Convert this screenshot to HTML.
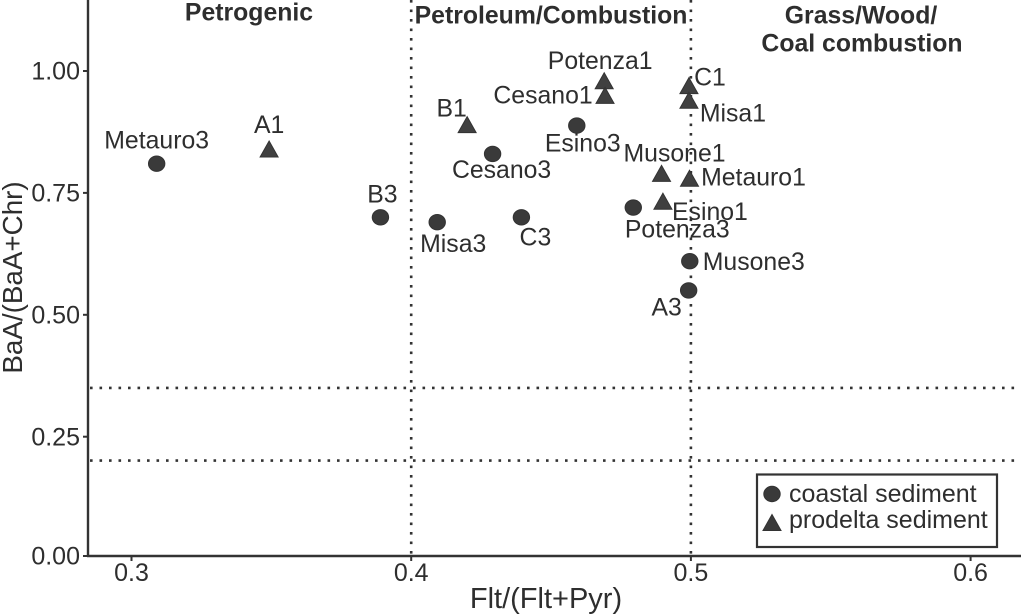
<!DOCTYPE html>
<html>
<head>
<meta charset="utf-8">
<title>Diagnostic ratio scatter plot</title>
<style>
html,body{margin:0;padding:0;background:#fff;width:1023px;height:616px;overflow:hidden}
svg{display:block;font-family:"Liberation Sans",Arial,sans-serif}
text{fill:#2e2e2e}
</style>
</head>
<body>
<svg id="chart" width="1023" height="616" viewBox="0 0 1023 616" xmlns="http://www.w3.org/2000/svg">
  <g id="guides"></g>
  <line x1="88" y1="0" x2="88" y2="557" stroke="#333" stroke-width="2.4"/>
  <line x1="87" y1="556" x2="1021" y2="556" stroke="#333" stroke-width="2.4"/>
  <g id="ticks"></g>
  <g id="marks"></g>
  <g id="labels" font-size="24.8"></g>
  <g font-size="24.8" font-weight="bold" text-anchor="middle">
    <text x="249" y="20.5">Petrogenic</text>
    <text x="551" y="23.5">Petroleum/Combustion</text>
    <text x="861" y="23.5">Grass/Wood/</text>
    <text x="862" y="51.5">Coal combustion</text>
  </g>
  <text x="546" y="608" font-size="29" text-anchor="middle">Flt/(Flt+Pyr)</text>
  <text transform="translate(22,277.5) rotate(-90)" font-size="27.8" text-anchor="middle">BaA/(BaA+Chr)</text>
  <g>
    <rect x="757" y="474.5" width="240" height="72.5" fill="#fff" stroke="#333" stroke-width="2.2"/>
    <ellipse cx="772" cy="494" rx="8.2" ry="7.7" fill="#3a3a3a" stroke="#333"/>
    <polygon points="772,514.5 781,530.5 763,530.5" fill="#3a3a3a" stroke="#333"/>
    <text x="789" y="502" font-size="25">coastal sediment</text>
    <text x="789" y="528" font-size="25">prodelta sediment</text>
  </g>
</svg>
<script>
const coastalNames = ["Metauro3","B3","Misa3","C3","Cesano3","Esino3","Potenza3","Musone3","A3"];
const coastalFlt = [0.309,0.389,0.4093,0.4394,0.4291,0.4592,0.4794,0.4996,0.4992];
const coastalBaa = [0.81,0.70,0.69,0.70,0.83,0.888,0.72,0.61,0.55];
const prodeltaNames = ["A1","B1","Potenza1","Cesano1","C1","Misa1","Musone1","Metauro1","Esino1"];
const prodeltaFlt = [0.3492,0.42,0.469,0.4693,0.4993,0.4993,0.4895,0.4995,0.49];
const prodeltaBaa = [0.84,0.89,0.98,0.95,0.97,0.94,0.79,0.78,0.733];
const xTickValues = [0.3,0.4,0.5,0.6];
const xTickLabels = ["0.3","0.4","0.5","0.6"];
const yTickValues = [0,0.25,0.5,0.75,1];
const yTickLabels = ["0.00","0.25","0.50","0.75","1.00"];
const xGuides = [0.4,0.5];
const yGuides = [0.2,0.35];

/* label placement relative to each point, kept apart from the data */
const labelOffset = {
  Metauro3:[0,-15],B3:[2,-15],Misa3:[16,30],C3:[14,28],Cesano3:[9,24],Esino3:[6,26],
  Potenza3:[44,30],Musone3:[64,9],A3:[-22,25],A1:[0,-16],B1:[-15.5,-8],Potenza1:[-4,-12],
  Cesano1:[-62,8],C1:[21,0],Misa1:[44,21],Musone1:[13,-12],Metauro1:[64,7],Esino1:[47,19]
};

const SVGNS = "http://www.w3.org/2000/svg";
function xScale(v){ return 131.5 + (v - 0.3) * 2797; }
function yScale(v){
  if (v < 0.25) return 556 - (v / 0.25) * 119.3;
  return 436.7 - (v - 0.25) * 487.6;
}
function make(tag, attrs, parent){
  const el = document.createElementNS(SVGNS, tag);
  for (const k in attrs) el.setAttribute(k, attrs[k]);
  parent.appendChild(el);
  return el;
}
const guidesG = document.getElementById("guides");
const ticksG = document.getElementById("ticks");
const marksG = document.getElementById("marks");
const labelsG = document.getElementById("labels");

xGuides.forEach(function(v){
  const l = make("line",{x1:xScale(v),y1:0,x2:xScale(v),y2:556,stroke:"#333","stroke-width":2.6,"stroke-dasharray":"2.6 6.9"},guidesG);
  
  
});
yGuides.forEach(function(v){
  const l = make("line",{x1:90,y1:yScale(v),x2:1018,y2:yScale(v),stroke:"#333","stroke-width":2.6,"stroke-dasharray":"2.6 6.9"},guidesG);
  
  
});
xTickValues.forEach(function(v,i){
  const t = make("line",{x1:xScale(v),y1:556,x2:xScale(v),y2:561,stroke:"#333","stroke-width":2},ticksG);
  
  
  const s = make("text",{x:xScale(v),y:581,"font-size":25,"text-anchor":"middle"},ticksG);
  
  
  s.textContent = xTickLabels[i];
});
yTickValues.forEach(function(v,i){
  const t = make("line",{x1:83,y1:yScale(v),x2:88,y2:yScale(v),stroke:"#333","stroke-width":2},ticksG);
  
  
  const s = make("text",{x:80,y:yScale(v)+8.7,"font-size":25,"text-anchor":"end"},ticksG);
  
  
  s.textContent = yTickLabels[i];
});
function addLabel(name, px, py){
  const o = labelOffset[name] || [0,-14];
  const s = make("text",{x:px+o[0],y:py+o[1],"text-anchor":"middle"},labelsG);
  
  
  s.textContent = name;
}
coastalNames.forEach(function(name,i){
  const px = xScale(coastalFlt[i]), py = yScale(coastalBaa[i]);
  const c = make("ellipse",{cx:px,cy:py,rx:8.2,ry:7.7,fill:"#3a3a3a",stroke:"#333"},marksG);
  
  
  addLabel(name,px,py);
});
prodeltaNames.forEach(function(name,i){
  const px = xScale(prodeltaFlt[i]), py = yScale(prodeltaBaa[i]);
  const pts = px+","+(py-8)+" "+(px+9)+","+(py+8)+" "+(px-9)+","+(py+8);
  const p = make("polygon",{points:pts,fill:"#404040",stroke:"#333"},marksG);
  
  
  addLabel(name,px,py);
});
</script>
</body>
</html>
